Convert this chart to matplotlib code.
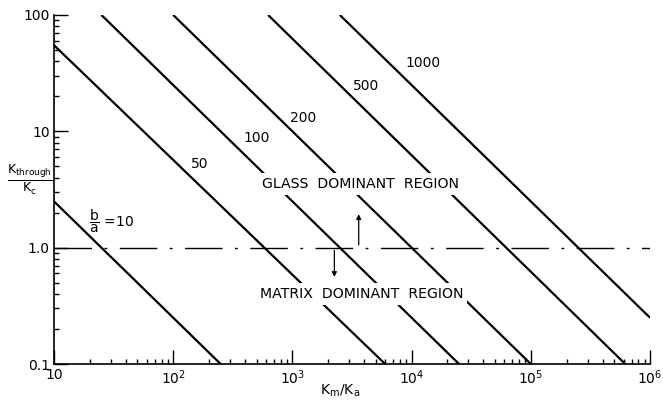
import numpy as np
import matplotlib
matplotlib.use("Agg")
import matplotlib.pyplot as plt

# b/a curves (Km/Ka, Kthrough/Kc)
ratios = [10, 50, 100, 200, 500, 1000]
x_start = [10, 10, 25, 100, 625, 2500]
y_start = [2.5, 55, 100, 100, 100, 100]
x_end = [250, 6000, 25000, 1.0e5, 6.2e5, 1.0e6]
y_end = [0.1, 0.1, 0.1, 0.1, 0.1, 0.25]

# curve label positions (data coords, left edge of the text)
label_x = [None, 140, 390, 960, 3250, 8900]
label_y = [None, 5.2, 8.8, 13.0, 24.6, 38.8]

# axis ticks
x_ticks = [10, 1e2, 1e3, 1e4, 1e5, 1e6]
x_ticklabels = ["10", r"$10^2$", r"$10^3$", r"$10^4$", r"$10^5$", r"$10^6$"]
y_ticks = [0.1, 1.0, 10, 100]
y_ticklabels = ["0.1", "1.0", "10", "100"]

threshold = 1.0

plt.rcParams["font.family"] = ["DejaVu Sans"]
plt.rcParams["mathtext.fontset"] = "dejavusans"

fig = plt.figure(figsize=(6.63, 4.03), dpi=100)
ax = fig.add_axes([54 / 663, 1 - 364 / 403, 596 / 663, 349 / 403])

for r, xs, ys, xe, ye in zip(ratios, x_start, y_start, x_end, y_end):
    ax.plot([xs, xe], [ys, ye], color="black", lw=1.6, solid_capstyle="butt", zorder=2)

for r, lx, ly in zip(ratios[1:], label_x[1:], label_y[1:]):
    ax.text(lx, ly, str(r), fontsize=10, ha="left", va="center", zorder=4)

ax.text(19.7, 1.68, r"$\dfrac{\mathrm{b}}{\mathrm{a}}$ =10", fontsize=10,
        ha="left", va="center", zorder=4)

# threshold line
ax.axhline(threshold, color="black", lw=1.0, dashes=[27, 9, 2, 9], zorder=1)

# region labels (white boxes break the curves like the original)
box = dict(facecolor="white", edgecolor="none", pad=3)
ax.text(3700, 3.5, "GLASS  DOMINANT  REGION", fontsize=10.2, ha="center",
        va="center", bbox=box, zorder=3)
ax.text(3800, 0.40, "MATRIX  DOMINANT  REGION", fontsize=10.2, ha="center",
        va="center", bbox=box, zorder=3)

ax.annotate("", xy=(3600, 2.05), xytext=(3600, threshold),
            arrowprops=dict(arrowstyle="-|>", color="black", lw=0.9,
                            mutation_scale=7))
ax.annotate("", xy=(2250, 0.53), xytext=(2250, threshold),
            arrowprops=dict(arrowstyle="-|>", color="black", lw=0.9,
                            mutation_scale=7))

ax.set_xscale("log")
ax.set_yscale("log")
ax.set_xlim(10, 1e6)
ax.set_ylim(0.1, 100)
ax.set_xticks(x_ticks)
ax.set_xticklabels(x_ticklabels)
ax.set_yticks(y_ticks)
ax.set_yticklabels(y_ticklabels)
ax.tick_params(which="major", direction="in", length=10, width=1, labelsize=10, pad=3)
ax.tick_params(which="minor", direction="in", length=3.5, width=1)
ax.spines["top"].set_visible(False)
ax.spines["right"].set_visible(False)
for s in ("left", "bottom"):
    ax.spines[s].set_linewidth(1.2)

ax.set_xlabel(r"K$_\mathrm{m}$/K$_\mathrm{a}$", fontsize=10)
ax.xaxis.set_label_coords(0.48, -0.052)
fig.text(30 / 663, 1 - 180 / 403,
         r"$\frac{\mathrm{K}_{\mathrm{through}}}{\mathrm{K}_{\mathrm{c}}}$",
         fontsize=13, ha="center", va="center")

fig.savefig("out.png", dpi=100)
